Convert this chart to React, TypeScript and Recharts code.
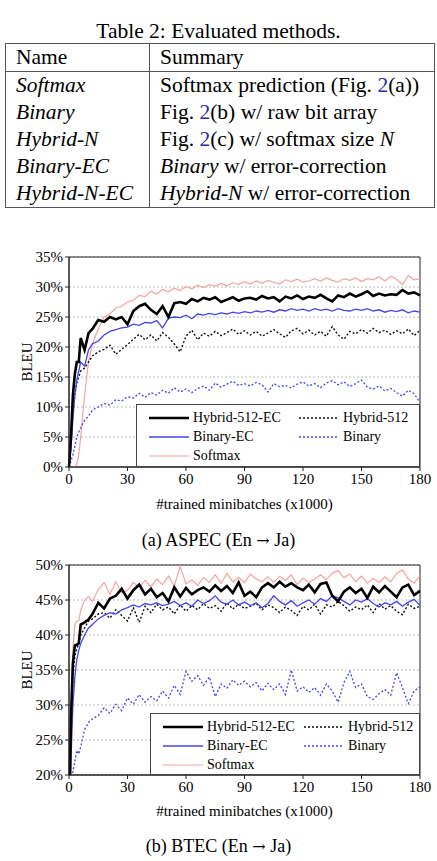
import React from 'react';
import { LineChart, Line, XAxis, YAxis, CartesianGrid, ReferenceArea } from 'recharts';

// x positions, thousands of minibatches
const steps = [0, 1, 2, 3, 4, 5, 6, 8, 10, 12,
  15, 18, 21, 24, 27, 30, 33, 36, 39, 42, 45, 48, 51, 54, 57, 60, 63, 66, 69, 72,
  75, 78, 81, 84, 87, 90, 93, 96, 99, 102, 105, 108, 111, 114, 117, 120, 123, 126, 129, 132,
  135, 138, 141, 144, 147, 150, 153, 156, 159, 162, 165, 168, 171, 174, 177, 180];

// (a) ASPEC
const aspecHybridEC = [0, 5, 12, 15.5, 17.5, 17.5, 21.5, 19.5, 22.3, 23,
  24.5, 24.2, 25, 24.6, 25, 23.8, 26, 26.8, 27.2, 26.2,
  25.5, 26.8, 25, 27.3, 27.5, 27.2, 28, 27.6, 28.2, 27.9,
  28.3, 27.5, 27.9, 28.3, 27.7, 28.1, 28.2, 27.9, 28.5, 28.1,
  28.3, 27.6, 28.4, 28.1, 28.6, 28.0, 28.4, 28.2, 28.7, 28.1,
  27.6, 28.6, 28.3, 28.9, 28.4, 28.8, 29.3, 28.5, 28.9, 28.6,
  28.8, 28.7, 29.5, 28.9, 29.1, 28.6];
const aspecSoftmax = [0, 0, 0, 0, 0.5, 2, 5, 12, 17.5, 20.5,
  23, 25, 25.5, 26.5, 26.8, 27.5, 27.8, 28.6, 28.4, 29.3,
  28.8, 29.6, 29.2, 29.8, 29.4, 30.1, 29.7, 30.3, 29.9, 30.4,
  30.1, 30.6, 30.2, 30.7, 30.4, 30.9, 30.5, 31.0, 30.6, 31.1,
  30.8, 30.5, 31.2, 30.9, 31.3, 30.8, 31.0, 31.4, 31.0, 31.5,
  31.1, 30.8, 31.4, 31.1, 31.5, 30.9, 31.4, 31.2, 31.7, 31.0,
  31.8, 31.3, 30.4, 31.9, 31.2, 31.4];
const aspecBinaryEC = [0, 3, 8, 12, 14.5, 16, 17.5, 16.8, 19.5, 20.5,
  21, 22, 22.6, 22.9, 23.2, 23.3, 23.8, 23.6, 24.1, 24.0,
  24.4, 23.2, 24.8, 25.0, 24.9, 25.3, 24.7, 25.5, 25.3, 25.6,
  25.4, 25.7, 25.5, 25.8, 25.6, 25.9, 25.7, 26.0, 25.8, 26.1,
  25.8, 26.2, 26.0, 26.4, 26.1, 26.3, 26.0, 26.4, 26.1, 26.3,
  26.0, 26.4, 26.1, 26.0, 26.3, 26.1, 26.4, 26.0, 26.2, 25.8,
  26.1, 25.9, 26.2, 25.7, 26.0, 25.8];
const aspecHybrid = [0, 4, 9, 12, 14, 15, 16, 16.5, 17.5, 18.5,
  19.2, 19.6, 20.3, 18.8, 19.6, 20.4, 21.3, 22.1, 21.2, 22.0,
  21.0, 22.4, 21.6, 20.5, 19.2, 21.8, 22.8, 21.2, 22.3, 21.8,
  22.6, 21.9, 22.4, 23.0, 22.1, 22.7, 22.0, 22.6, 21.8, 22.3,
  22.9, 22.2, 21.6, 22.7, 23.1, 22.2, 22.8, 22.0, 22.6, 21.8,
  23.4, 22.0, 21.3, 22.6, 22.2, 22.9, 22.3, 23.1, 22.4, 22.8,
  22.1, 22.7, 22.2, 23.0, 21.9, 22.8];
const aspecBinary = [0, 1, 2, 3.5, 5, 5.8, 6.5, 7.8, 8.5, 9.5,
  10, 10.6, 10.3, 11.2, 11.0, 11.7, 11.5, 12.3, 11.6, 12.4,
  12.0, 12.8, 12.3, 13.2, 12.5, 13.0, 12.4, 13.1, 13.5, 12.8,
  14.0, 13.3, 13.8, 14.3, 13.6, 13.9, 13.5, 14.1, 13.7, 12.5,
  13.9, 13.4, 13.6, 13.2, 13.8, 14.2, 13.5, 13.9, 13.2, 14.0,
  14.4, 13.7, 14.2, 13.4, 13.9, 14.5, 13.3, 13.0, 13.5, 12.7,
  13.1, 12.4, 11.8, 12.8, 12.2, 10.8];

// (b) BTEC
const btecSoftmax = [15, 30, 38, 41.5, 42, 42, 43.5, 45, 45.5, 44.8,
  46.5, 47.5, 45.8, 47.6, 46.0, 46.4, 47.5, 46.8, 47.8, 46.9,
  48.0, 47.2, 48.4, 47.0, 49.8, 47.3, 47.9, 47.1, 48.2, 47.5,
  48.6, 47.4, 48.8, 47.6, 48.2, 47.5, 48.7, 48.0, 47.6, 48.3,
  47.5, 48.4, 47.8, 48.6, 47.2, 48.1, 47.5, 48.0, 48.6, 47.9,
  48.8, 49.2, 48.2, 48.7, 47.6, 48.4, 47.4, 48.1, 47.5, 48.3,
  47.6, 48.8, 49.3, 48.0, 47.4, 48.5];
const btecHybridEC = [12, 28, 36, 38.5, 38.6, 38.8, 41.5, 41.8, 42.2, 43,
  44.6, 43.8, 45.2, 45.6, 46.6, 45.2, 46.4, 47.2, 45.8, 46.6,
  45.4, 46.0, 44.8, 46.8, 45.5, 46.7, 45.8, 46.4, 46.8, 46.2,
  47.1, 46.3, 47.0, 46.0, 47.5, 45.6, 46.2, 45.4, 46.8, 47.4,
  46.8, 47.6, 46.9, 47.4, 46.8, 46.4, 47.2, 46.1, 47.3, 47.5,
  45.6, 44.8, 46.2, 46.8, 46.0, 46.6, 45.3, 46.9, 46.1, 47.0,
  46.2, 45.4, 46.8, 47.2, 45.7, 46.3];
const btecBinaryEC = [10, 22, 30, 34, 36.5, 37.8, 38.8, 40, 41, 41.5,
  42.3, 42.8, 43.2, 43.0, 43.6, 43.9, 44.3, 44.0, 44.5, 44.3,
  44.6, 44.2, 44.4, 44.8, 44.2, 44.6, 44.1, 45.0, 44.5, 44.9,
  45.6, 44.7, 44.4, 45.0, 44.3, 44.7, 44.2, 44.6, 43.9, 44.5,
  45.6, 44.8, 44.3, 44.9, 44.1, 44.6, 45.0, 44.4, 45.2, 44.8,
  45.6, 45.3, 44.8, 44.3, 45.0, 44.7, 45.2, 44.5, 44.0, 44.6,
  44.3, 44.8, 44.1, 44.7, 45.1, 44.2];
const btecHybrid = [12, 25, 34, 37, 38, 38.8, 40, 41, 42, 42.3,
  43, 43.2, 42.4, 43.6, 42.8, 42.0, 43.9, 41.8, 44.1, 43.2,
  44.4, 43.6, 44.0, 43.0, 44.3, 43.4, 44.2, 43.6, 44.5, 43.8,
  44.2, 43.4, 44.6, 43.7, 44.4, 43.8, 44.1, 44.5, 43.6, 44.3,
  43.9, 43.2, 44.0, 43.5, 42.8, 44.1, 43.6, 44.4, 43.0, 44.3,
  44.0, 44.8, 44.2, 43.4, 44.0, 43.6, 44.3, 43.2, 44.5, 43.7,
  44.2, 43.4, 42.9, 44.4, 43.8, 44.1];
const btecBinary = [10, 15, 20.5, 22, 23.5, 23, 24, 26.5, 27.5, 28,
  28.5, 29.6, 28.8, 30.1, 29.2, 31.0, 30.1, 31.5, 30.4, 31.2,
  30.6, 32.0, 31.0, 32.8, 31.5, 34.8, 33.4, 34.2, 32.8, 34.0,
  31.2, 33.0, 32.4, 33.6, 32.8, 33.4, 32.6, 33.2, 32.0, 33.1,
  32.2, 33.0, 31.5, 35.0, 32.0, 32.6, 31.8, 32.5, 31.4, 33.0,
  32.0, 30.4, 33.2, 34.8, 32.5, 33.0, 31.2, 30.8, 31.6, 32.2,
  31.4, 34.6, 32.5, 30.2, 32.0, 32.6];

const xTicks = [0, 30, 60, 90, 120, 150, 180];
const aspecTicks = [0, 5, 10, 15, 20, 25, 30, 35];
const btecTicks = [20, 25, 30, 35, 40, 45, 50];

const FONT = '"Liberation Serif", "Times New Roman", serif';
const BLUE = '#4545ee';
const PINK = '#f4a3a3';

const seriesStyle = [
  { key: 'softmax', name: 'Softmax', color: PINK, width: 1.2, dash: undefined },
  { key: 'binary', name: 'Binary', color: BLUE, width: 1.3, dash: '2 2' },
  { key: 'hybrid', name: 'Hybrid-512', color: '#111', width: 1.4, dash: '2 2' },
  { key: 'binaryEC', name: 'Binary-EC', color: BLUE, width: 1.3, dash: undefined },
  { key: 'hybridEC', name: 'Hybrid-512-EC', color: '#000', width: 2.6, dash: undefined },
];

const buildRows = (softmax: number[], binary: number[], hybrid: number[], binaryEC: number[], hybridEC: number[]) =>
  steps.map((x, i) => ({ x, softmax: softmax[i], binary: binary[i], hybrid: hybrid[i], binaryEC: binaryEC[i], hybridEC: hybridEC[i] }));

const aspecRows = buildRows(aspecSoftmax, aspecBinary, aspecHybrid, aspecBinaryEC, aspecHybridEC);
const btecRows = buildRows(btecSoftmax, btecBinary, btecHybrid, btecBinaryEC, btecHybridEC);

const legendLayout = [
  ['hybridEC', 'hybrid'],
  ['binaryEC', 'binary'],
  ['softmax'],
];

function LegendBox({ left, top, width, height, col2 }: { left: number; top: number; width: number; height: number; col2: number }) {
  return (
    <div style={{ position: 'absolute', left, top, width, height, boxSizing: 'border-box', border: '1px solid #444', background: '#fff', fontSize: 14, paddingTop: 3 }}>
      {legendLayout.map((row, r) => (
        <div key={r} style={{ position: 'relative', height: 19 }}>
          {row.map((k, c) => {
            const s = seriesStyle.find(v => v.key === k)!;
            return (
              <div key={k} style={{ position: 'absolute', left: c === 0 ? 12 : col2, top: 0, display: 'flex', alignItems: 'center', height: 19 }}>
                <svg width={40} height={10} style={{ marginRight: 4 }}>
                  <line x1={0} y1={5} x2={40} y2={5} stroke={s.color} strokeWidth={s.width} strokeDasharray={s.dash} />
                </svg>
                <span>{s.name}</span>
              </div>
            );
          })}
        </div>
      ))}
    </div>
  );
}

function Panel({ rows, top, domain, ticks }: { rows: any[]; top: number; domain: [number, number]; ticks: number[] }) {
  return (
    <div style={{ position: 'absolute', left: 0, top }}>
      <LineChart width={437} height={260} data={rows} margin={{ top: 12, right: 17, left: 0, bottom: 8 }}>
        <CartesianGrid vertical={false} stroke="#bbb" strokeDasharray="2 2" />
        <XAxis dataKey="x" type="number" domain={[0, 180]} ticks={xTicks} height={30} tickSize={4}
          tick={{ fill: '#000', fontSize: 15, fontFamily: FONT }} stroke="#222" />
        <YAxis type="number" domain={domain} ticks={ticks} allowDataOverflow width={69} tickSize={4}
          tickFormatter={(v: number) => `${v}%`} tick={{ fill: '#000', fontSize: 15, fontFamily: FONT }} stroke="#222" />
        <ReferenceArea x1={0} x2={180} y1={domain[0]} y2={domain[1]} fill="none" stroke="#222" strokeWidth={1} ifOverflow="extendDomain" />
        {seriesStyle.map(s => (
          <Line key={s.key} dataKey={s.key} type="linear" stroke={s.color} strokeWidth={s.width}
            strokeDasharray={s.dash} dot={false} isAnimationActive={false} />
        ))}
      </LineChart>
    </div>
  );
}

const text = (content: React.ReactNode, style: React.CSSProperties) => (
  <div style={{ position: 'absolute', whiteSpace: 'nowrap', ...style }}>{content}</div>
);

const arrow = <span style={{ fontFamily: '"DejaVu Serif", serif', fontSize: 16 }}>→</span>;

export default function App() {
  const link = { color: '#2a2aa8' };
  const cell: React.CSSProperties = { padding: '0 0 0 10px', height: 27, lineHeight: '27px', fontFamily: FONT, fontSize: 21.5, whiteSpace: 'nowrap' };
  const tableRows: [React.ReactNode, React.ReactNode][] = [
    [<i>Softmax</i>, <>Softmax prediction (Fig. <span style={link}>2</span>(a))</>],
    [<i>Binary</i>, <>Fig. <span style={link}>2</span>(b) w/ raw bit array</>],
    [<i>Hybrid-N</i>, <>Fig. <span style={link}>2</span>(c) w/ softmax size <i>N</i></>],
    [<i>Binary-EC</i>, <><i>Binary</i> w/ error-correction</>],
    [<i>Hybrid-N-EC</i>, <><i>Hybrid-N</i> w/ error-correction</>],
  ];
  return (
    <div style={{ position: 'absolute', left: 0, top: 0, width: 437, height: 861, background: '#fff', fontFamily: FONT, color: '#000', overflow: 'hidden' }}>
      {text('Table 2: Evaluated methods.', { left: 0, width: 437, textAlign: 'center', top: 19, fontSize: 21.5 })}
      <table style={{ position: 'absolute', left: 5, top: 43, width: 430, borderCollapse: 'collapse', fontFamily: FONT, fontSize: 21.5, border: '1.5px solid #555' }}>
        <tbody>
          <tr style={{ borderBottom: '1.5px solid #555' }}>
            <td style={{ ...cell, width: 133, borderRight: '1.5px solid #555' }}>Name</td>
            <td style={cell}>Summary</td>
          </tr>
          {tableRows.map((r, i) => (
            <tr key={i}>
              <td style={{ ...cell, borderRight: '1.5px solid #555' }}>{r[0]}</td>
              <td style={cell}>{r[1]}</td>
            </tr>
          ))}
        </tbody>
      </table>

      <Panel rows={aspecRows} top={245} domain={[0, 35]} ticks={aspecTicks} />
      <LegendBox left={136} top={404} width={284} height={63} col2={162} />
      {text('BLEU', { left: 27, top: 362, fontSize: 15, transform: 'translate(-50%, -50%) rotate(-90deg)' })}
      {text('#trained minibatches (x1000)', { left: 69, width: 351, textAlign: 'center', top: 496, fontSize: 15 })}
      {text(<>(a) ASPEC (En {arrow} Ja)</>, { left: 0, width: 437, textAlign: 'center', top: 530, fontSize: 18 })}

      <Panel rows={btecRows} top={553} domain={[20, 50]} ticks={btecTicks} />
      <LegendBox left={150} top={713} width={270} height={62} col2={153} />
      {text('BLEU', { left: 27, top: 670, fontSize: 15, transform: 'translate(-50%, -50%) rotate(-90deg)' })}
      {text('#trained minibatches (x1000)', { left: 69, width: 351, textAlign: 'center', top: 803, fontSize: 15 })}
      {text(<>(b) BTEC (En {arrow} Ja)</>, { left: 0, width: 437, textAlign: 'center', top: 836, fontSize: 18 })}
    </div>
  );
}
